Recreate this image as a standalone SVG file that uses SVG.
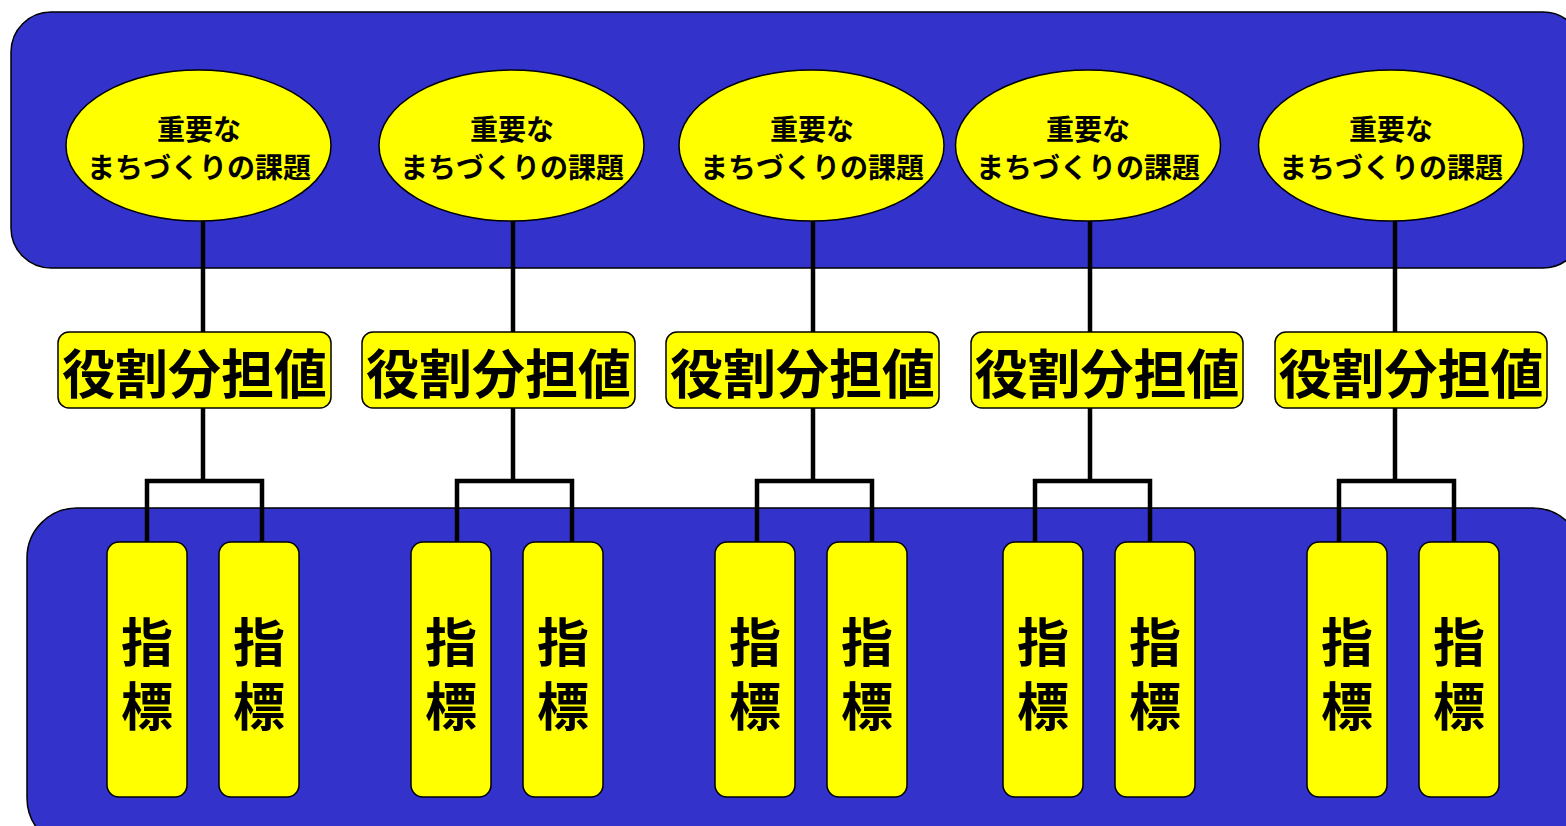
<svg xmlns="http://www.w3.org/2000/svg" width="1566" height="826" viewBox="0 0 1566 826">
<style>
.band{fill:#3333CC;stroke:#000;stroke-width:1.5}
.ell{fill:#FFFF00;stroke:#000;stroke-width:1.5}
.box{fill:#FFFF00;stroke:#000;stroke-width:1.5}
.t{font-family:"Noto Sans CJK JP","Noto Sans CJK SC",sans-serif;font-weight:bold;fill:#000;text-anchor:middle}
.t1{font-size:28px}
.t2{font-size:53px}
.t3{font-size:52px}
.c{fill:none;stroke:#000;stroke-width:4.5;stroke-linejoin:miter}
</style>
<rect width="1566" height="826" fill="#fff"/>
<g id="bands">
<rect class="band" x="11" y="12" width="1572" height="256" rx="40"/>
<rect class="band" x="27" y="508" width="1556" height="340" rx="50"/>
</g>
<g id="connectors">
<path class="c" d="M203,221V332M203,408V481M147,542V481H262V542"/>
<path class="c" d="M513,221V332M513,408V481M457,542V481H572V542"/>
<path class="c" d="M813,221V332M813,408V481M757,542V481H872V542"/>
<path class="c" d="M1090,221V332M1090,408V481M1035,542V481H1150V542"/>
<path class="c" d="M1395,221V332M1395,408V481M1339,542V481H1454V542"/>
</g>
<g id="issue1"><ellipse class="ell" cx="198.5" cy="145.5" rx="132.5" ry="75.5"/><text class="t t1" x="199" y="140">重要な</text><text class="t t1" x="199" y="178">まちづくりの課題</text></g>
<g id="issue2"><ellipse class="ell" cx="511.5" cy="145.5" rx="132.5" ry="75.5"/><text class="t t1" x="512" y="140">重要な</text><text class="t t1" x="512" y="178">まちづくりの課題</text></g>
<g id="issue3"><ellipse class="ell" cx="811.5" cy="145.5" rx="132.5" ry="75.5"/><text class="t t1" x="812" y="140">重要な</text><text class="t t1" x="812" y="178">まちづくりの課題</text></g>
<g id="issue4"><ellipse class="ell" cx="1088" cy="145.5" rx="132.5" ry="75.5"/><text class="t t1" x="1088" y="140">重要な</text><text class="t t1" x="1088" y="178">まちづくりの課題</text></g>
<g id="issue5"><ellipse class="ell" cx="1391" cy="145.5" rx="132.5" ry="75.5"/><text class="t t1" x="1391" y="140">重要な</text><text class="t t1" x="1391" y="178">まちづくりの課題</text></g>
<g id="role1"><rect class="box" x="58" y="332" width="273" height="76" rx="11"/><text class="t t2" x="194.5" y="394">役割分担値</text></g>
<g id="role2"><rect class="box" x="362" y="332" width="273" height="76" rx="11"/><text class="t t2" x="498.5" y="394">役割分担値</text></g>
<g id="role3"><rect class="box" x="666" y="332" width="273" height="76" rx="11"/><text class="t t2" x="802.5" y="394">役割分担値</text></g>
<g id="role4"><rect class="box" x="971" y="332" width="272" height="76" rx="11"/><text class="t t2" x="1107" y="394">役割分担値</text></g>
<g id="role5"><rect class="box" x="1275" y="332" width="272" height="76" rx="11"/><text class="t t2" x="1411" y="394">役割分担値</text></g>
<g id="ind1a"><rect class="box" x="107" y="542" width="80" height="255" rx="12"/><text class="t t3" x="147" y="662">指</text><text class="t t3" x="147" y="726">標</text></g>
<g id="ind1b"><rect class="box" x="219" y="542" width="80" height="255" rx="12"/><text class="t t3" x="259" y="662">指</text><text class="t t3" x="259" y="726">標</text></g>
<g id="ind2a"><rect class="box" x="411" y="542" width="80" height="255" rx="12"/><text class="t t3" x="451" y="662">指</text><text class="t t3" x="451" y="726">標</text></g>
<g id="ind2b"><rect class="box" x="523" y="542" width="80" height="255" rx="12"/><text class="t t3" x="563" y="662">指</text><text class="t t3" x="563" y="726">標</text></g>
<g id="ind3a"><rect class="box" x="715" y="542" width="80" height="255" rx="12"/><text class="t t3" x="755" y="662">指</text><text class="t t3" x="755" y="726">標</text></g>
<g id="ind3b"><rect class="box" x="827" y="542" width="80" height="255" rx="12"/><text class="t t3" x="867" y="662">指</text><text class="t t3" x="867" y="726">標</text></g>
<g id="ind4a"><rect class="box" x="1003" y="542" width="80" height="255" rx="12"/><text class="t t3" x="1043" y="662">指</text><text class="t t3" x="1043" y="726">標</text></g>
<g id="ind4b"><rect class="box" x="1115" y="542" width="80" height="255" rx="12"/><text class="t t3" x="1155" y="662">指</text><text class="t t3" x="1155" y="726">標</text></g>
<g id="ind5a"><rect class="box" x="1307" y="542" width="80" height="255" rx="12"/><text class="t t3" x="1347" y="662">指</text><text class="t t3" x="1347" y="726">標</text></g>
<g id="ind5b"><rect class="box" x="1419" y="542" width="80" height="255" rx="12"/><text class="t t3" x="1459" y="662">指</text><text class="t t3" x="1459" y="726">標</text></g>
</svg>
